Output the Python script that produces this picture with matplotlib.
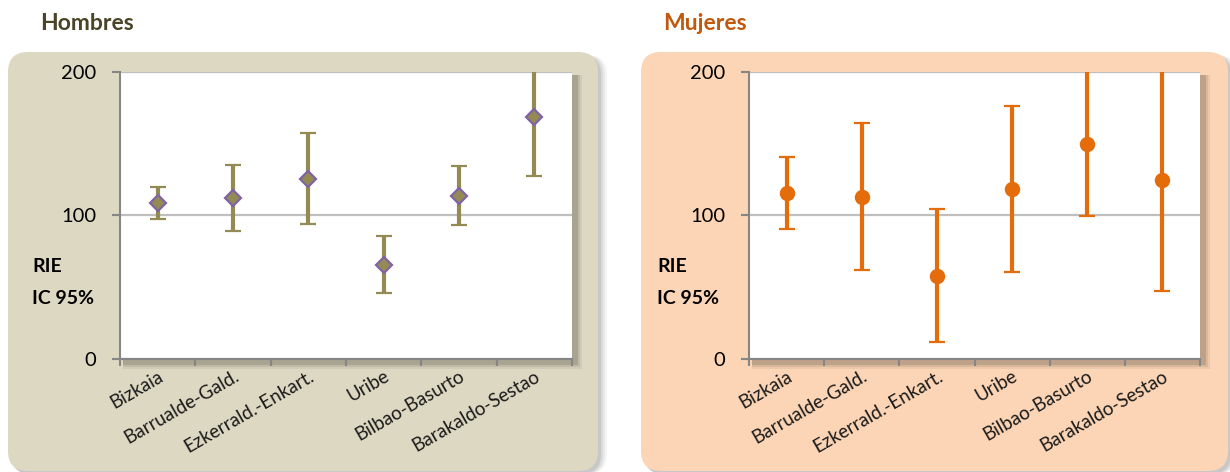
import numpy as np
import matplotlib.pyplot as plt
from matplotlib.patches import FancyBboxPatch, Rectangle

plt.rcParams['font.family'] = ['Lato', 'DejaVu Sans']

# -------------------------------
# Data (RIE with 95% CI)
# -------------------------------
zonas = ['Bizkaia', 'Barrualde-Gald.', 'Ezkerrald.-Enkart.',
         'Uribe', 'Bilbao-Basurto', 'Barakaldo-Sestao']

hombres_rie = [108.5, 112.4, 125.7, 65.7, 113.6, 168.9]
hombres_inf = [97.3, 89.2, 94.3, 45.8, 93.1, 127.3]
hombres_sup = [120.1, 135.4, 157.5, 85.9, 134.5, 230.0]

mujeres_rie = [115.6, 113.0, 57.9, 118.4, 149.5, 124.7]
mujeres_inf = [90.9, 62.3, 11.6, 60.5, 99.8, 47.7]
mujeres_sup = [140.5, 164.2, 104.4, 176.5, 215.0, 260.0]

yticks = [0, 100, 200]

W, H = 1230, 472
fig = plt.figure(figsize=(W / 100, H / 100), dpi=100)

# background layer in pixel coordinates
bg = fig.add_axes([0, 0, 1, 1])
bg.set_xlim(0, W)
bg.set_ylim(H, 0)
bg.axis('off')


def panel(x0, y0, x1, y1, color):
    r = 20
    # soft shadow
    for k, a in [(9, 0.04), (7, 0.05), (5, 0.06), (3, 0.08)]:
        bg.add_patch(FancyBboxPatch((x0 + r + 3, y0 + r + 3), x1 - x0 - 2 * r + k - 3,
                                    y1 - y0 - 2 * r, boxstyle=f"round,pad={r}",
                                    fc='black', ec='none', alpha=a))
    bg.add_patch(FancyBboxPatch((x0 + r, y0 + r), x1 - x0 - 2 * r, y1 - y0 - 2 * r,
                                boxstyle=f"round,pad={r}", fc=color, ec='none'))


def plot_shadow(x0, y0, x1, y1):
    for k, a in [(7, 0.06), (5, 0.08), (3, 0.12)]:
        bg.add_patch(Rectangle((x0 + 3, y0 + 3), x1 - x0 + k, y1 - y0 + k,
                               fc='black', ec='none', alpha=a))


panel(8, 52, 598, 471, '#ddd8c2')
panel(641, 52, 1228, 471, '#fbd5b5')
plot_shadow(120, 72, 572, 359)
plot_shadow(749, 72, 1200, 359)

fig.text(40 / W, 1 - 30 / H, 'Hombres', fontsize=16.5, fontweight='bold',
         color='#4a4526', ha='left', va='baseline')
fig.text(663 / W, 1 - 30 / H, 'Mujeres', fontsize=16.5, fontweight='bold',
         color='#c0580e', ha='left', va='baseline')


def draw(rect, rie, inf, sup, color, marker, ms, mec, lab_x):
    ax = fig.add_axes(rect)
    x = np.arange(len(zonas))
    rie = np.array(rie)
    yerr = [rie - np.array(inf), np.array(sup) - rie]
    ax.errorbar(x, rie, yerr=yerr, fmt=marker, color=color, ecolor=color,
                elinewidth=3, capsize=5.5, capthick=3, ms=ms,
                mfc=color, mec=mec, mew=1.6, zorder=3)
    ax.set_xlim(-0.5, len(zonas) - 0.5)
    ax.set_ylim(0, 200)
    ax.set_yticks(yticks)
    ax.set_yticklabels([str(v) for v in yticks])
    ax.yaxis.grid(True, color='#bfbfbf', lw=1.6)
    ax.set_axisbelow(True)
    ax.set_xticks(np.arange(len(zonas) + 1) - 0.5)
    ax.set_xticklabels([])
    ax.set_xticks(x, minor=True)
    ax.set_xticklabels(zonas, minor=True, rotation=30, ha='right',
                       rotation_mode='anchor', fontsize=13.5, color='#1a1a1a')
    ax.tick_params(axis='x', which='minor', length=0, pad=6)
    ax.tick_params(axis='x', which='major', length=5, width=1.5, color='#868686',
                   direction='out')
    ax.tick_params(axis='y', length=6, width=1.5, color='#868686', pad=11,
                   labelsize=14.5, labelcolor='black')
    for s in ['top', 'right']:
        ax.spines[s].set_visible(False)
    for s in ['left', 'bottom']:
        ax.spines[s].set_color('#868686')
        ax.spines[s].set_linewidth(1.5)
    fig.text(lab_x / W, 1 - 266 / H, 'RIE', fontsize=14, fontweight='bold',
             ha='left', va='center')
    fig.text(lab_x / W, 1 - 298 / H, 'IC 95%', fontsize=14, fontweight='bold',
             ha='left', va='center')
    return ax


draw([120 / W, 1 - 359 / H, (572 - 120) / W, 287 / H],
     hombres_rie, hombres_inf, hombres_sup, '#948a54', 'D', 8, '#8064a2', 32)
draw([749 / W, 1 - 359 / H, (1200 - 749) / W, 287 / H],
     mujeres_rie, mujeres_inf, mujeres_sup, '#e46c0a', 'o', 9.5, '#e46c0a', 657)

fig.savefig('out.png', dpi=100)
